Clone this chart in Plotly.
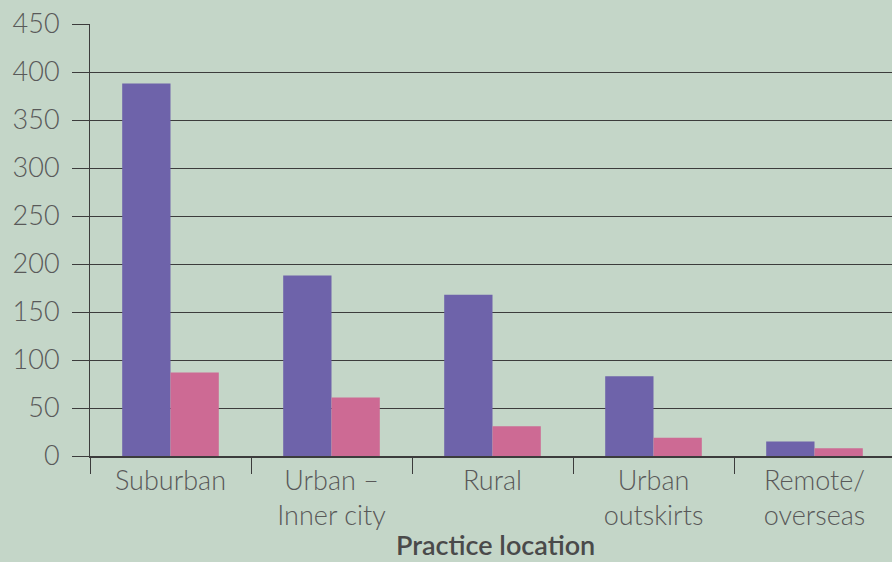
import plotly.graph_objects as go

# data
locations = ["Suburban", "Urban –<br>Inner city", "Rural", "Urban<br>outskirts", "Remote/<br>overseas"]
series_a = [388, 188, 168, 83, 15]
series_b = [87, 61, 31, 19, 8]
y_ticks = [0, 50, 100, 150, 200, 250, 300, 350, 400, 450]

bg = "#c4d6c8"
line_col = "#3c3c3c"
text_col = "#595959"

fig = go.Figure()
fig.add_trace(go.Bar(x=locations, y=series_a, marker_color="#6e63aa", marker_line_width=0, name="A"))
fig.add_trace(go.Bar(x=locations, y=series_b, marker_color="#cd6a94", marker_line_width=0, name="B"))

fig.update_layout(
    width=892, height=562,
    margin=dict(l=90, r=0, t=24, b=106),
    paper_bgcolor=bg, plot_bgcolor=bg,
    barmode="group", bargap=0.4, bargroupgap=0,
    showlegend=False,
    font=dict(family="Lato", size=27, color=text_col, weight=300),
)
fig.update_xaxes(
    range=[-0.5, -0.5 + 802 / 161], automargin=False,
    tickson="boundaries", ticks="outside", ticklen=16, tickcolor=line_col, tickwidth=1,
    showgrid=False, showline=True, linecolor=line_col, linewidth=1.5,
    tickfont=dict(size=27, color=text_col),
)
fig.update_yaxes(
    range=[0, 450], tickvals=y_ticks, automargin=False,
    ticks="outside", ticklen=17, tickcolor=line_col, tickwidth=1,
    showgrid=True, gridcolor=line_col, gridwidth=1.2,
    showline=True, linecolor=line_col, linewidth=1,
    zeroline=False,
    tickfont=dict(size=27, color=text_col),
    ticklabelstandoff=7,
)

# axis title as an annotation, kept just inside the bottom edge
fig.add_annotation(text="Practice location", xref="paper", yref="paper", x=0.506, y=-0.206,
                   xanchor="center", yanchor="middle", showarrow=False,
                   font=dict(size=27, color="#4a4a4a", weight=600))

# drop the default page margin so the figure sits at the window's corner
fig.write_html("out.html", config={"displayModeBar": False},
               post_script="document.body.style.margin='0';")
